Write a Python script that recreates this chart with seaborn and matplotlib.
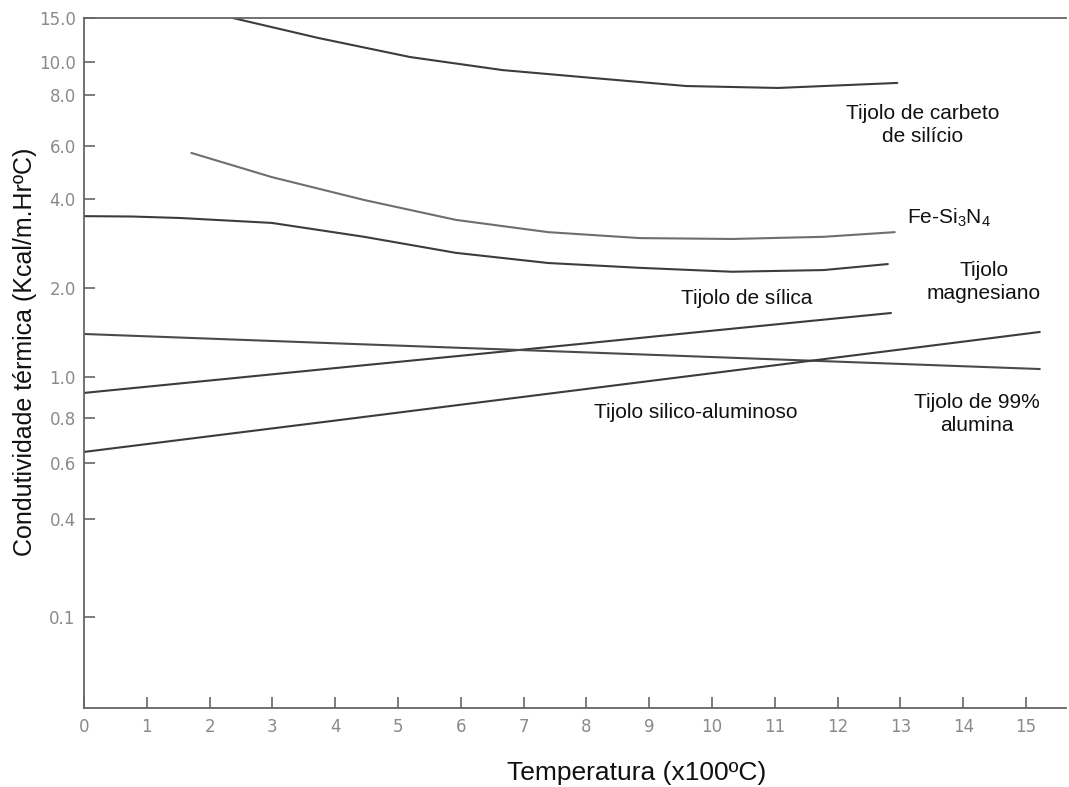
import numpy as np
import pandas as pd
import matplotlib
matplotlib.use("Agg")
import matplotlib.pyplot as plt
import seaborn as sns

# ---------------- data ----------------
temp_carbeto = [2.37, 3.73, 5.19, 6.66, 8.12, 9.59, 11.05, 12.95]
k_carbeto = [15.0, 12.48, 10.47, 9.47, 8.97, 8.50, 8.39, 8.68]

temp_fesin = [1.71, 2.99, 4.46, 5.92, 7.39, 8.85, 10.32, 11.78, 12.91]
k_fesin = [5.69, 4.73, 3.97, 3.40, 3.09, 2.95, 2.93, 2.98, 3.09]

temp_magnes = [0.0, 0.76, 1.53, 2.99, 4.46, 5.92, 7.39, 8.85, 10.32, 11.78, 12.80]
k_magnes = [3.50, 3.49, 3.45, 3.32, 2.98, 2.63, 2.43, 2.34, 2.27, 2.30, 2.41]

temp_silica = [0.0, 2.0, 4.0, 6.0, 8.0, 10.0, 12.0, 12.85]
k_silica = [0.917, 0.981, 1.072, 1.18, 1.30, 1.434, 1.58, 1.646]

temp_alumina = [0.0, 4.0, 8.0, 12.0, 15.22]
k_alumina = [1.398, 1.30, 1.211, 1.127, 1.064]

temp_silal = [0.0, 2.0, 4.0, 6.0, 8.0, 10.0, 12.0, 14.0, 15.22]
k_silal = [0.644, 0.712, 0.787, 0.860, 0.937, 1.030, 1.165, 1.317, 1.42]

x_ticks = list(range(0, 16))
y_ticks = [0.1, 0.4, 0.6, 0.8, 1.0, 2.0, 4.0, 6.0, 8.0, 10.0, 15.0]
y_tick_labels = ["0.1", "0.4", "0.6", "0.8", "1.0", "2.0", "4.0", "6.0", "8.0", "10.0", "15.0"]

series = {
    "carbeto": (temp_carbeto, k_carbeto),
    "fesin": (temp_fesin, k_fesin),
    "magnes": (temp_magnes, k_magnes),
    "silica": (temp_silica, k_silica),
    "alumina": (temp_alumina, k_alumina),
    "silal": (temp_silal, k_silal),
}
frames = []
for name, (t, k) in series.items():
    frames.append(pd.DataFrame({"temp": t, "k": k, "material": name}))
df = pd.concat(frames, ignore_index=True)

# ---------------- irregular (hand drawn) log-like y scale ----------------
scale_logv = np.log10([1e-6, 0.1, 0.4, 0.6, 0.8, 1.0, 2.0, 4.0, 6.0, 8.0, 10.0, 15.0, 1e3])
scale_pos = np.array([-723, 91, 189, 245, 290, 331, 420, 509, 562, 613, 646, 690, 1146], float)


def fwd(v):
    v = np.asarray(v, float)
    return np.interp(np.log10(np.clip(v, 1e-6, None)), scale_logv, scale_pos)


def inv(p):
    p = np.asarray(p, float)
    return 10 ** np.interp(p, scale_pos, scale_logv)


# ---------------- figure ----------------
sns.set_style("white")
plt.rcParams["font.family"] = ["Liberation Sans", "DejaVu Sans"]

W, H = 1069, 787
fig = plt.figure(figsize=(W / 100, H / 100), dpi=100)
ax = fig.add_axes([84 / W, 1 - 708 / H, (1066 - 84) / W, (708 - 18) / H])

palette = {"carbeto": "#3c3c3c", "fesin": "#6e6e6e", "magnes": "#3c3c3c",
           "silica": "#3c3c3c", "alumina": "#4a4a4a", "silal": "#3c3c3c"}
sns.lineplot(data=df, x="temp", y="k", hue="material", palette=palette,
             estimator=None, sort=False, legend=False, linewidth=1.5, ax=ax)

ax.set_yscale("function", functions=(fwd, inv))
ax.set_ylim(float(inv(0)), 15.0)
ax.set_xlim(0, 982 / 62.8)

ax.set_xticks(x_ticks)
ax.set_xticklabels([str(v) for v in x_ticks])
ax.set_yticks(y_ticks)
ax.set_yticklabels(y_tick_labels)
ax.minorticks_off()
ax.tick_params(axis="both", which="major", bottom=True, left=True, top=False, right=False,
               direction="in", length=8, width=1.2, color="#666666",
               labelcolor="#8a8a8a", labelsize=12)
ax.tick_params(axis="x", pad=7)
ax.tick_params(axis="y", pad=6)
for lab in ax.get_xticklabels() + ax.get_yticklabels():
    lab.set_family("DejaVu Sans")

for side in ["left", "bottom", "top"]:
    ax.spines[side].set_color("#666666")
    ax.spines[side].set_linewidth(1.3)
ax.spines["right"].set_visible(False)

ax.set_xlabel("")
ax.set_ylabel("")
fig.text(637 / W, 1 - 773 / H, "Temperatura (x100ºC)", ha="center", va="center",
         fontsize=19, color="#111111")
fig.text(25 / W, 1 - 352 / H, "Condutividade térmica (Kcal/m.HrºC)", ha="center", va="center",
         rotation=90, fontsize=18, color="#111111")

lab_kw = dict(ha="center", va="center", fontsize=15, color="#111111", linespacing=1.25)
fig.text(923 / W, 1 - 125 / H, "Tijolo de carbeto\nde silício", **lab_kw)
fig.text(907 / W, 1 - 218 / H, "Fe-Si$\\mathregular{_3}$N$\\mathregular{_4}$", ha="left", va="center",
         fontsize=15, color="#111111")
fig.text(984 / W, 1 - 282 / H, "Tijolo\nmagnesiano", **lab_kw)
fig.text(747 / W, 1 - 298 / H, "Tijolo de sílica", **lab_kw)
fig.text(696 / W, 1 - 413 / H, "Tijolo silico-aluminoso", **lab_kw)
fig.text(977 / W, 1 - 414 / H, "Tijolo de 99%\nalumina", **lab_kw)

fig.savefig("out.png", dpi=100)
